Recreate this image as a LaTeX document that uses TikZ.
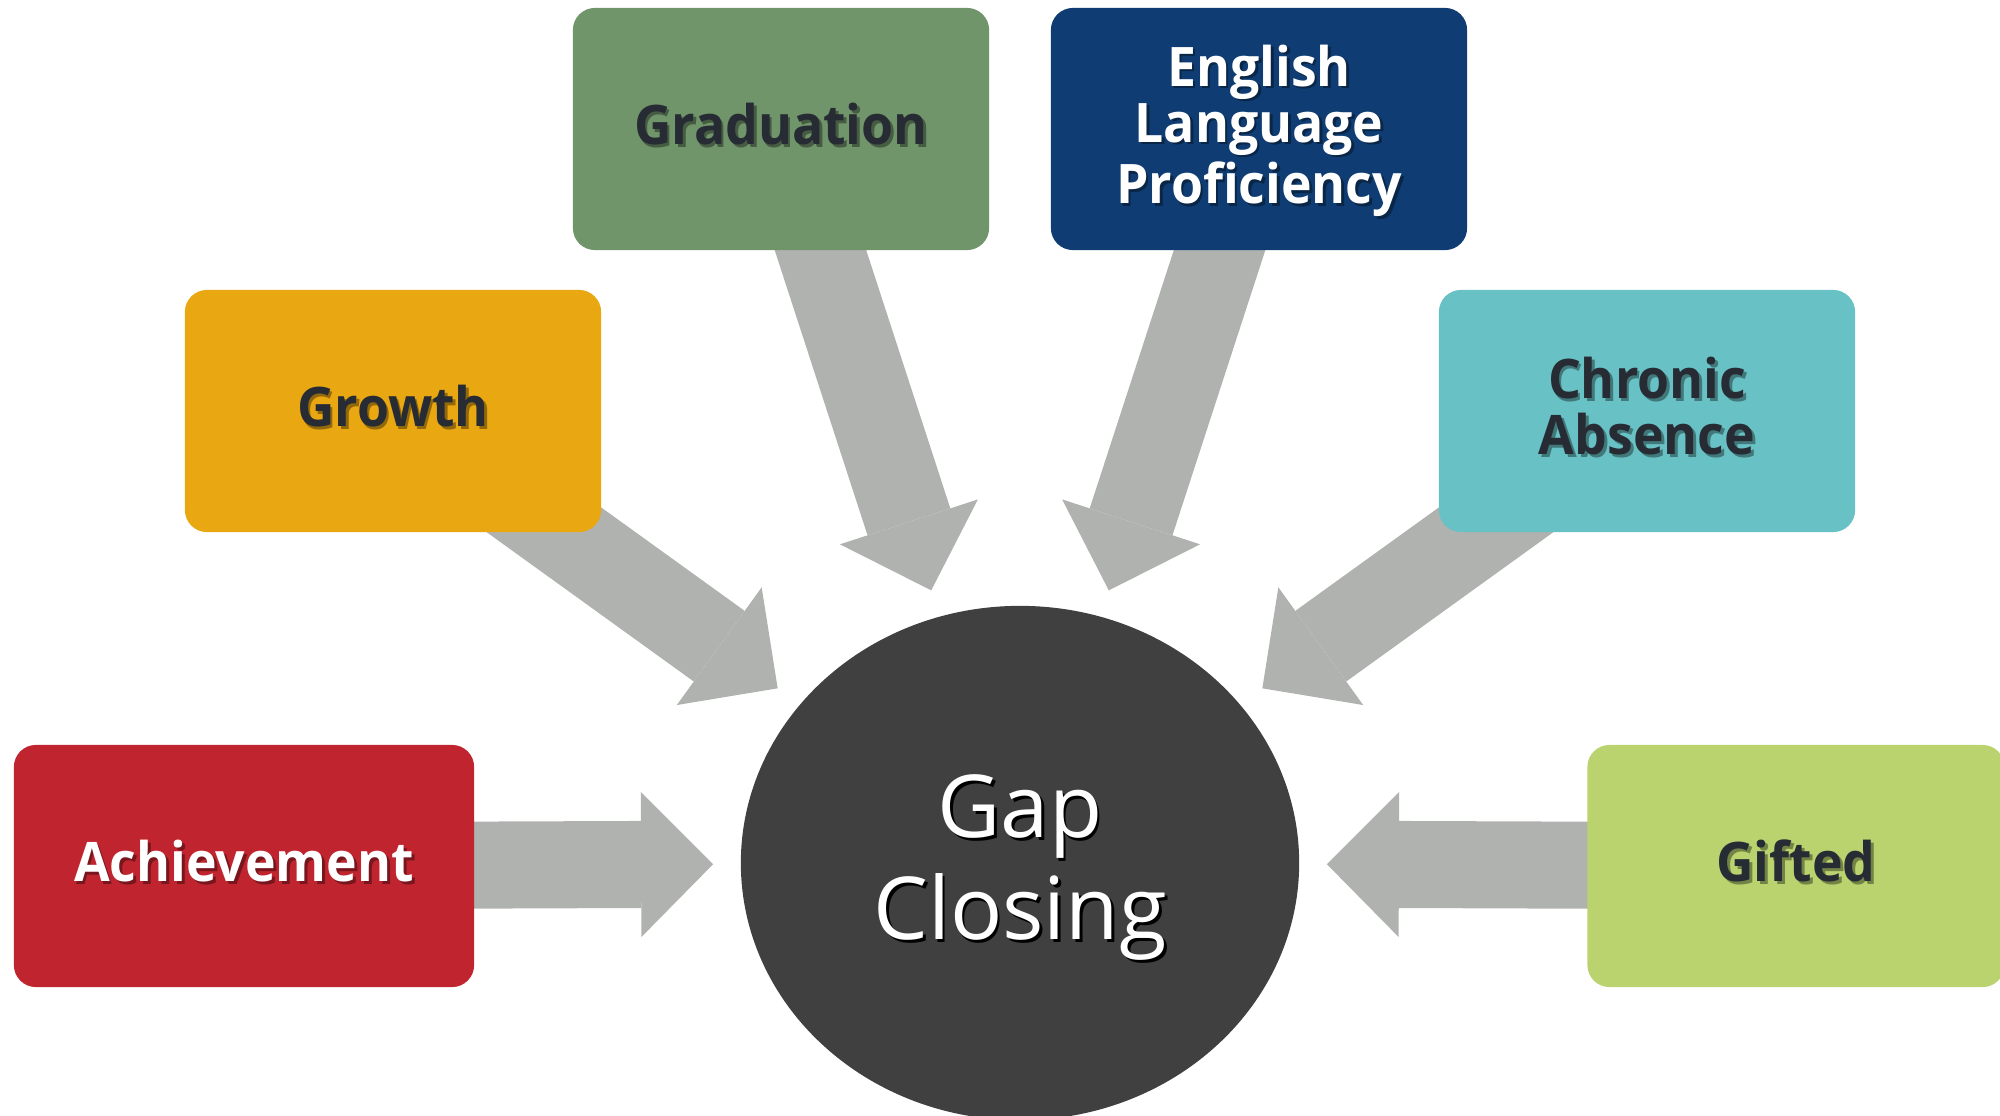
\documentclass[tikz,border=0pt]{standalone}
\usepackage{fontspec}
\setmainfont{Open Sans}
\newfontfamily\tilefont{Open Sans}[FakeStretch=0.95]
\usetikzlibrary{shapes.geometric,arrows.meta,backgrounds}

\definecolor{achred}{HTML}{C0242F}
\definecolor{growyellow}{HTML}{E9A811}
\definecolor{gradgreen}{HTML}{71956A}
\definecolor{elpblue}{HTML}{0F3D73}
\definecolor{chronteal}{HTML}{68C1C4}
\definecolor{giftgreen}{HTML}{BAD36F}
\definecolor{arrowgray}{HTML}{B0B2AF}
\definecolor{gapgray}{HTML}{404040}
\definecolor{labeldark}{HTML}{272B34}
\colorlet{shd}{black}

\newcommand\shtext[1]{\leavevmode\rlap{\kern0.8pt\raisebox{-0.8pt}{\color{shd}#1}}#1}

\begin{document}
\begin{tikzpicture}[x=0.01cm, y=-0.01cm,
    tile/.style={rectangle, rounded corners=0.22cm, fill=#1,
      execute at begin node={\colorlet{shd}{#1!62!black}},
      minimum width=4.16cm, minimum height=2.42cm, align=center,
      text depth=0.1cm, font=\tilefont\fontsize{15.5}{15.9}\selectfont\bfseries},
    feed/.style={line width=0.87cm, draw=arrowgray, shorten >=0.27cm,
      -{Triangle[length=0.72cm 0 0, width=1.45cm 0 0, line width=0pt 0 0]}}]
%	\draw [help lines] (0,0) grid[step=100] (2000,1115);
	\useasboundingbox (0,0) rectangle (2000,1115);
	\node [tile=achred, text=white, minimum width=4.6cm] (ach) at (244,866) {\shtext{Achievement}};
	\node [tile=growyellow, text=labeldark] (grow) at (393,411) {\shtext{Growth}};
	\node [tile=gradgreen, text=labeldark] (grad) at (781,129) {\shtext{Graduation}};
	\node [tile=elpblue, text=white] (elp) at (1259,129) {\shtext{English}\\\shtext{Language}\\\shtext{Proficiency}};
	\node [tile=chronteal, text=labeldark] (chron) at (1647,411) {\shtext{Chronic}\\\shtext{Absence}};
	\node [tile=giftgreen, text=labeldark, minimum width=4.17cm] (gift) at (1796,866) {\shtext{Gifted}};
	\node [ellipse, fill=gapgray, minimum width=5.58cm, minimum height=5.14cm, inner sep=0pt,
	  text=white, align=center, text depth=0.11cm, font=\fontsize{24.7}{29}\selectfont] (gap) at (1020,863) {\shtext{Gap}\\\shtext{Closing}};
	\begin{scope}[on background layer]
		\draw [feed] (ach.center) -- (gap);
		\draw [feed] (grow.center) -- (gap);
		\draw [feed] (grad.center) -- (gap);
		\draw [feed] (elp.center) -- (gap);
		\draw [feed] (chron.center) -- (gap);
		\draw [feed] (gift.center) -- (gap);
	\end{scope}
\end{tikzpicture}
\end{document}
